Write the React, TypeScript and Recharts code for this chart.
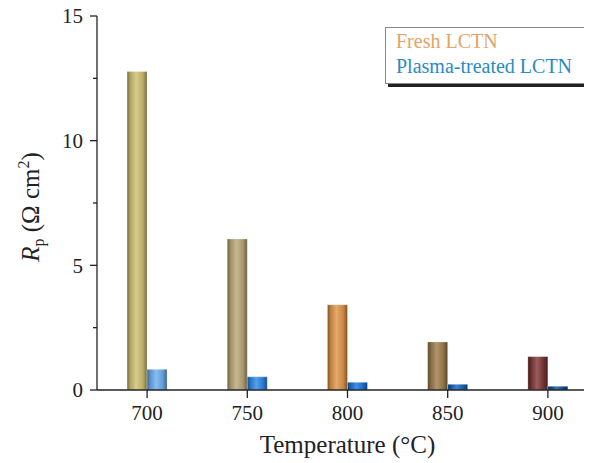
import React from 'react';
import { BarChart, Bar, XAxis, YAxis, Cell, Legend } from 'recharts';

const categories = ['700', '750', '800', '850', '900'];
const freshValues = [12.77, 6.06, 3.42, 1.93, 1.34];
const plasmaValues = [0.83, 0.53, 0.31, 0.23, 0.15];
const yTicks = [0, 2.5, 5, 7.5, 10, 12.5, 15];

const freshColors = ['#cdbf70', '#b8a676', '#de9446', '#9c7c4a', '#7e3434'];
const plasmaColors = ['#6cacef', '#2c86e6', '#1a72dc', '#1262bc', '#0c4c94'];

const data = categories.map((c, i) => ({ temp: c, fresh: freshValues[i], plasma: plasmaValues[i] }));

const FONT = '"Liberation Serif", "Times New Roman", serif';

function shade(hex: string, f: number) {
  const n = parseInt(hex.slice(1), 16);
  let r = (n >> 16) & 255, g = (n >> 8) & 255, b = n & 255;
  if (f < 0) {
    r = Math.round(r * (1 + f)); g = Math.round(g * (1 + f)); b = Math.round(b * (1 + f));
  } else {
    r = Math.round(r + (255 - r) * f); g = Math.round(g + (255 - g) * f); b = Math.round(b + (255 - b) * f);
  }
  return `rgb(${r},${g},${b})`;
}

const Grad = ({ id, color }: { id: string; color: string }) => (
  <linearGradient id={id} x1="0" y1="0" x2="1" y2="0">
    <stop offset="0%" stopColor={shade(color, -0.45)} />
    <stop offset="15%" stopColor={shade(color, -0.15)} />
    <stop offset="45%" stopColor={shade(color, 0.2)} />
    <stop offset="80%" stopColor={shade(color, -0.1)} />
    <stop offset="100%" stopColor={shade(color, -0.45)} />
  </linearGradient>
);

const YTick = (props: any) => {
  const { x, y, payload } = props;
  const axisX = x + 14;
  const major = payload.value % 5 === 0;
  return (
    <g>
      <line x1={axisX} x2={axisX - (major ? 7 : 4)} y1={y} y2={y} stroke="#222" strokeWidth={1.3} />
      {major && (
        <text x={x} y={y} dy="0.355em" textAnchor="end" fontFamily={FONT} fontSize={21} fill="#222">
          {payload.value}
        </text>
      )}
    </g>
  );
};

const YLabel = (props: any) => {
  const vb = props.viewBox || { x: 0, y: 8, width: 89, height: 374 };
  const cx = 31;
  const cy = vb.y + vb.height / 2 + 4;
  return (
    <g transform={`translate(${cx}, ${cy}) rotate(-90)`}>
      <text x={0} y={0} textAnchor="middle" fontFamily={FONT} fontSize={25} fill="#222">
        <tspan fontStyle="italic">R</tspan>
        <tspan fontSize={16} dy={5}>p</tspan>
        <tspan dy={-5}> (Ω cm</tspan>
        <tspan fontSize={16} dy={-10}>2</tspan>
        <tspan dy={10}>)</tspan>
      </text>
    </g>
  );
};

const XLabel = (props: any) => {
  const vb = props.viewBox || { x: 89, y: 382, width: 495, height: 73 };
  return (
    <text
      x={vb.x + vb.width / 2 + 3}
      y={vb.y + vb.height - 10}
      textAnchor="middle"
      fontFamily={FONT}
      fontSize={25}
      fill="#222"
    >
      Temperature (°C)
    </text>
  );
};

const LegendBox = () => (
  <div
    style={{
      border: '1px solid #8a8a8a',
      background: '#fff',
      boxShadow: '3px 3px 0 #222',
      padding: '1px 8px 4px 10px',
      fontFamily: FONT,
      fontSize: 20,
      lineHeight: '25px',
      width: 184,
      boxSizing: 'content-box',
      textAlign: 'left',
    }}
  >
    <div style={{ color: '#e2a468' }}>Fresh LCTN</div>
    <div style={{ color: '#2a8ac6' }}>Plasma-treated LCTN</div>
  </div>
);

export default function App() {
  return (
    <div style={{ width: 584, height: 455, position: 'relative' }}>
      <BarChart
        width={584}
        height={455}
        data={data}
        margin={{ top: 8, right: 0, bottom: 0, left: 0 }}
        barCategoryGap="30%"
        barGap={0}
        style={{ overflow: 'visible' }}
      >
        <defs>
          {freshColors.map((c, i) => (
            <Grad key={'f' + i} id={'fresh' + i} color={c} />
          ))}
          {plasmaColors.map((c, i) => (
            <Grad key={'p' + i} id={'plasma' + i} color={c} />
          ))}
        </defs>
        <XAxis
          dataKey="temp"
          height={73}
          padding={{ left: 0, right: -6 }}
          tickSize={8}
          tickMargin={7}
          axisLine={{ stroke: '#222', strokeWidth: 1.3 }}
          tickLine={{ stroke: '#222', strokeWidth: 1.3 }}
          tick={{ fontFamily: FONT, fontSize: 21, fill: '#222' }}
          label={<XLabel />}
        />
        <YAxis
          width={89}
          domain={[0, 15]}
          ticks={yTicks}
          interval={0}
          tickSize={7}
          tickMargin={7}
          tickLine={false}
          tick={<YTick />}
          axisLine={{ stroke: '#222', strokeWidth: 1.3 }}
          label={<YLabel />}
        />
        <Legend
          content={<LegendBox />}
          verticalAlign="top"
          wrapperStyle={{ position: 'absolute', left: 377, top: 19, width: 0, height: 0, overflow: 'visible' }}
        />
        <Bar dataKey="fresh" isAnimationActive={false} stroke="rgba(255,255,255,0.5)" strokeWidth={0.6}>
          {data.map((_, i) => (
            <Cell key={i} fill={`url(#fresh${i})`} />
          ))}
        </Bar>
        <Bar dataKey="plasma" isAnimationActive={false} stroke="rgba(255,255,255,0.5)" strokeWidth={0.6}>
          {data.map((_, i) => (
            <Cell key={i} fill={`url(#plasma${i})`} />
          ))}
        </Bar>
      </BarChart>
    </div>
  );
}
